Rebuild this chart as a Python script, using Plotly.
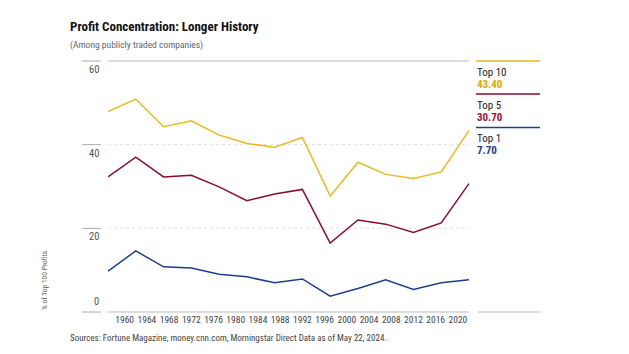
import plotly.graph_objects as go

years = [1957, 1962, 1967, 1972, 1977, 1982, 1987, 1992, 1997, 2002, 2007, 2012, 2017, 2022]
top10 = [47.9, 50.9, 44.3, 45.7, 42.3, 40.3, 39.4, 41.7, 27.7, 35.8, 32.9, 31.9, 33.5, 43.4]
top5 = [32.3, 37.0, 32.3, 32.7, 29.9, 26.6, 28.2, 29.3, 16.5, 22.0, 21.0, 19.0, 21.3, 30.7]
top1 = [9.75, 14.6, 10.8, 10.5, 9.0, 8.4, 7.0, 7.9, 3.8, 5.6, 7.7, 5.4, 7.0, 7.7]
tick_years = list(range(1960, 2021, 4))
y_ticks = [0, 20, 40, 60]
series = [("Top 10", top10, "#EDB91E", "#E3AA00", "43.40"),
          ("Top 5", top5, "#8C0B2E", "#A0102F", "30.70"),
          ("Top 1", top1, "#1C3E8E", "#1C3E8E", "7.70")]

FONT = "Roboto Condensed, 'DejaVu Sans Condensed', sans-serif"
PW = 361.0  # plot width in px

fig = go.Figure()
for name, vals, col, _, _ in series:
    fig.add_trace(go.Scatter(x=years, y=vals, mode="lines", name=name,
                             line=dict(color=col, width=1.5), hoverinfo="skip", cliponaxis=False))

shapes = []
for v in y_ticks:
    solid = v in (0, 60)
    yv = v / 60.0
    shapes.append(dict(type="line", xref="paper", yref="paper", x0=0, x1=1, y0=yv, y1=yv,
                       line=dict(color="#BBBBBB" if solid else "#E2E2E2", width=1,
                                 dash="solid" if solid else "dot"), layer="below"))
    shapes.append(dict(type="line", xref="paper", yref="paper", x0=-26 / PW, x1=-7 / PW, y0=yv, y1=yv,
                       line=dict(color="#AAAAAA", width=1)))
leg_y = [60, 52.1, 44.1]
for (name, vals, col, tcol, lab), ly in zip(series, leg_y):
    shapes.append(dict(type="line", xref="paper", yref="paper", x0=(476 - 108) / PW, x1=(540 - 108) / PW,
                       y0=ly / 60.0, y1=ly / 60.0, line=dict(color=col, width=1.6)))
shapes.append(dict(type="line", xref="paper", yref="paper", x0=(478 - 108) / PW, x1=(540 - 108) / PW,
                   y0=0, y1=0, line=dict(color="#BBBBBB", width=1)))

ann = []
for v in y_ticks:
    ann.append(dict(xref="paper", yref="paper", x=-7 / PW, y=v / 60.0, text=str(v), showarrow=False,
                    xanchor="right", yanchor="top" if v != 0 else "bottom",
                    yshift=0 if v != 0 else 2,
                    font=dict(family=FONT, size=10.5, color="#555555")))
for (name, vals, col, tcol, lab), ly in zip(series, leg_y):
    ann.append(dict(xref="paper", yref="paper", x=(475 - 108) / PW, y=ly / 60.0, text=name, showarrow=False,
                    xanchor="left", yanchor="middle", yshift=-11,
                    font=dict(family=FONT, size=11, color="#222222")))
    ann.append(dict(xref="paper", yref="paper", x=(475 - 108) / PW, y=ly / 60.0, text="<b>" + lab + "</b>",
                    showarrow=False, xanchor="left", yanchor="middle", yshift=-23,
                    font=dict(family=FONT, size=11, color=tcol)))
ann.append(dict(xref="paper", yref="paper", x=-40 / PW, y=1, yshift=35,
                text="<b>Profit Concentration: Longer History</b>",
                showarrow=False, xanchor="left", yanchor="middle",
                font=dict(family=FONT, size=13, color="#111111")))
ann.append(dict(xref="paper", yref="paper", x=-40 / PW, y=1, yshift=16,
                text="(Among publicly traded companies)",
                showarrow=False, xanchor="left", yanchor="middle",
                font=dict(family=FONT, size=9.5, color="#666666")))
ann.append(dict(xref="paper", yref="paper", x=-40 / PW, y=0, yshift=-26,
                text="Sources: Fortune Magazine, money.cnn.com, Morningstar Direct Data as of May 22, 2024.",
                showarrow=False, xanchor="left", yanchor="middle",
                font=dict(family=FONT, size=9, color="#444444")))
ann.append(dict(xref="paper", yref="paper", x=-64 / PW, y=0, text="% of Top 100 Profits",
                showarrow=False, textangle=-90, xanchor="center", yanchor="bottom",
                font=dict(family=FONT, size=7.5, color="#666666")))

fig.update_layout(
    width=629, height=354,
    margin=dict(l=108, r=160, t=61, b=42),
    paper_bgcolor="white", plot_bgcolor="white",
    showlegend=False,
    shapes=shapes, annotations=ann,
    xaxis=dict(range=[1957, 2022], tickvals=tick_years, ticktext=[str(t) for t in tick_years],
               showgrid=False, zeroline=False, showline=False, ticks="", tickangle=0,
               tickfont=dict(family=FONT, size=9.5, color="#444444")),
    yaxis=dict(range=[0, 60], showgrid=False, zeroline=False, showline=False,
               showticklabels=False, ticks=""),
)
fig.write_html("out.html")
